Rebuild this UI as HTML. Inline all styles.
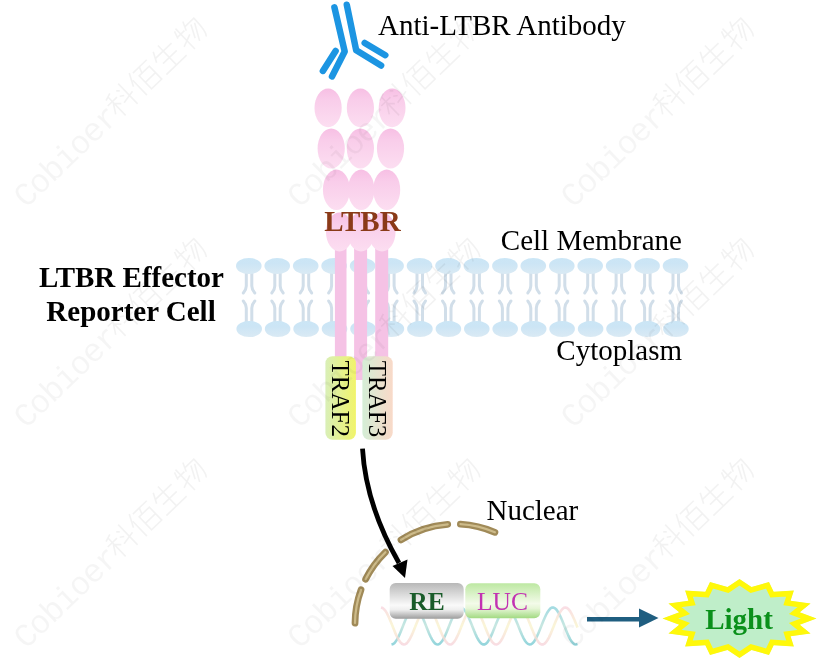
<!DOCTYPE html>
<html><head><meta charset="utf-8"><style>
html,body{margin:0;padding:0;background:#fff;}
svg{display:block;will-change:transform;}
.s{font-family:"Liberation Serif",serif;font-size:29px;fill:#000;}
.sb{font-family:"Liberation Serif",serif;font-size:29px;font-weight:bold;}
.s24{font-family:"Liberation Serif",serif;font-size:24px;}
.s25{font-family:"Liberation Serif",serif;font-size:25.5px;}
.s25t{font-family:"Liberation Serif",serif;font-size:25px;}
.sb24{font-family:"Liberation Serif",serif;font-size:25.5px;font-weight:bold;}
.tail{fill:none;stroke:#D1DEE9;stroke-width:3;stroke-linecap:round;}
.wm{font-family:"Liberation Mono",monospace;font-size:33px;fill:#000;fill-opacity:0.04;}
</style></head><body>
<svg width="819" height="660" viewBox="0 0 819 660">
<defs>
<linearGradient id="pinkE" x1="0" y1="0" x2="0" y2="1"><stop offset="0" stop-color="#F7BFE4"/><stop offset="0.3" stop-color="#F9CDEA"/><stop offset="1" stop-color="#FCDEF1"/></linearGradient>
<linearGradient id="head" x1="0" y1="0" x2="0" y2="1"><stop offset="0" stop-color="#CBE6F6"/><stop offset="0.35" stop-color="#CCE5F5"/><stop offset="1" stop-color="#DAEAF4"/></linearGradient>
<linearGradient id="traf2" x1="0" y1="0" x2="1" y2="0"><stop offset="0" stop-color="#D9EFB8"/><stop offset="1" stop-color="#F1F46A"/></linearGradient>
<linearGradient id="traf3" x1="0" y1="0" x2="1" y2="0"><stop offset="0" stop-color="#D4EED6"/><stop offset="1" stop-color="#F9D9C8"/></linearGradient>
<linearGradient id="re" x1="0" y1="0" x2="0" y2="1"><stop offset="0" stop-color="#B8B8B8"/><stop offset="0.62" stop-color="#FAFAFA"/><stop offset="0.75" stop-color="#EEEEEE"/><stop offset="1" stop-color="#9C9C9C"/></linearGradient>
<linearGradient id="luc" x1="0" y1="0" x2="0" y2="1"><stop offset="0" stop-color="#BDE8A2"/><stop offset="0.58" stop-color="#F3FBE9"/><stop offset="0.72" stop-color="#E6F6D6"/><stop offset="1" stop-color="#A2DA82"/></linearGradient>
<linearGradient id="dnaA" x1="0" y1="606" x2="0" y2="646" gradientUnits="userSpaceOnUse"><stop offset="0" stop-color="#F6C8D6"/><stop offset="0.5" stop-color="#F7F1C0"/><stop offset="1" stop-color="#F4C6D3"/></linearGradient>
<linearGradient id="dnaB" x1="0" y1="606" x2="0" y2="646" gradientUnits="userSpaceOnUse"><stop offset="0" stop-color="#92D5DE"/><stop offset="0.5" stop-color="#BFE3DC"/><stop offset="1" stop-color="#7DCDD6"/></linearGradient>
</defs>
<rect width="819" height="660" fill="#fff"/>
<path d="M246.3,272 V286 Q246.3,289.5 243.3,293 M251.8,272 V286 Q251.8,289.5 254.8,293" class="tail"/><path d="M243.3,301 Q246.3,304.5 246.3,308 V322 M254.8,301 Q251.8,304.5 251.8,308 V322" class="tail"/><ellipse cx="248.8" cy="266" rx="12.8" ry="8" fill="url(#head)"/><ellipse cx="249.2" cy="329" rx="12.8" ry="8.1" fill="url(#head)"/><path d="M274.8,272 V286 Q274.8,289.5 271.8,293 M280.2,272 V286 Q280.2,289.5 283.2,293" class="tail"/><path d="M271.8,301 Q274.8,304.5 274.8,308 V322 M283.2,301 Q280.2,304.5 280.2,308 V322" class="tail"/><ellipse cx="277.2" cy="266" rx="12.8" ry="8" fill="url(#head)"/><ellipse cx="277.6" cy="329" rx="12.8" ry="8.1" fill="url(#head)"/><path d="M303.2,272 V286 Q303.2,289.5 300.2,293 M308.7,272 V286 Q308.7,289.5 311.7,293" class="tail"/><path d="M300.2,301 Q303.2,304.5 303.2,308 V322 M311.7,301 Q308.7,304.5 308.7,308 V322" class="tail"/><ellipse cx="305.7" cy="266" rx="12.8" ry="8" fill="url(#head)"/><ellipse cx="306.1" cy="329" rx="12.8" ry="8.1" fill="url(#head)"/><path d="M331.6,272 V286 Q331.6,289.5 328.6,293 M337.1,272 V286 Q337.1,289.5 340.1,293" class="tail"/><path d="M328.6,301 Q331.6,304.5 331.6,308 V322 M340.1,301 Q337.1,304.5 337.1,308 V322" class="tail"/><ellipse cx="334.1" cy="266" rx="12.8" ry="8" fill="url(#head)"/><ellipse cx="334.5" cy="329" rx="12.8" ry="8.1" fill="url(#head)"/><path d="M360.1,272 V286 Q360.1,289.5 357.1,293 M365.6,272 V286 Q365.6,289.5 368.6,293" class="tail"/><path d="M357.1,301 Q360.1,304.5 360.1,308 V322 M368.6,301 Q365.6,304.5 365.6,308 V322" class="tail"/><ellipse cx="362.6" cy="266" rx="12.8" ry="8" fill="url(#head)"/><ellipse cx="363.0" cy="329" rx="12.8" ry="8.1" fill="url(#head)"/><path d="M388.6,272 V286 Q388.6,289.5 385.6,293 M394.1,272 V286 Q394.1,289.5 397.1,293" class="tail"/><path d="M385.6,301 Q388.6,304.5 388.6,308 V322 M397.1,301 Q394.1,304.5 394.1,308 V322" class="tail"/><ellipse cx="391.1" cy="266" rx="12.8" ry="8" fill="url(#head)"/><ellipse cx="391.4" cy="329" rx="12.8" ry="8.1" fill="url(#head)"/><path d="M417.0,272 V286 Q417.0,289.5 414.0,293 M422.5,272 V286 Q422.5,289.5 425.5,293" class="tail"/><path d="M414.0,301 Q417.0,304.5 417.0,308 V322 M425.5,301 Q422.5,304.5 422.5,308 V322" class="tail"/><ellipse cx="419.5" cy="266" rx="12.8" ry="8" fill="url(#head)"/><ellipse cx="419.9" cy="329" rx="12.8" ry="8.1" fill="url(#head)"/><path d="M445.5,272 V286 Q445.5,289.5 442.5,293 M451.0,272 V286 Q451.0,289.5 454.0,293" class="tail"/><path d="M442.5,301 Q445.5,304.5 445.5,308 V322 M454.0,301 Q451.0,304.5 451.0,308 V322" class="tail"/><ellipse cx="448.0" cy="266" rx="12.8" ry="8" fill="url(#head)"/><ellipse cx="448.4" cy="329" rx="12.8" ry="8.1" fill="url(#head)"/><path d="M473.9,272 V286 Q473.9,289.5 470.9,293 M479.4,272 V286 Q479.4,289.5 482.4,293" class="tail"/><path d="M470.9,301 Q473.9,304.5 473.9,308 V322 M482.4,301 Q479.4,304.5 479.4,308 V322" class="tail"/><ellipse cx="476.4" cy="266" rx="12.8" ry="8" fill="url(#head)"/><ellipse cx="476.8" cy="329" rx="12.8" ry="8.1" fill="url(#head)"/><path d="M502.4,272 V286 Q502.4,289.5 499.4,293 M507.9,272 V286 Q507.9,289.5 510.9,293" class="tail"/><path d="M499.4,301 Q502.4,304.5 502.4,308 V322 M510.9,301 Q507.9,304.5 507.9,308 V322" class="tail"/><ellipse cx="504.9" cy="266" rx="12.8" ry="8" fill="url(#head)"/><ellipse cx="505.2" cy="329" rx="12.8" ry="8.1" fill="url(#head)"/><path d="M530.8,272 V286 Q530.8,289.5 527.8,293 M536.3,272 V286 Q536.3,289.5 539.3,293" class="tail"/><path d="M527.8,301 Q530.8,304.5 530.8,308 V322 M539.3,301 Q536.3,304.5 536.3,308 V322" class="tail"/><ellipse cx="533.3" cy="266" rx="12.8" ry="8" fill="url(#head)"/><ellipse cx="533.7" cy="329" rx="12.8" ry="8.1" fill="url(#head)"/><path d="M559.2,272 V286 Q559.2,289.5 556.2,293 M564.8,272 V286 Q564.8,289.5 567.8,293" class="tail"/><path d="M556.2,301 Q559.2,304.5 559.2,308 V322 M567.8,301 Q564.8,304.5 564.8,308 V322" class="tail"/><ellipse cx="561.8" cy="266" rx="12.8" ry="8" fill="url(#head)"/><ellipse cx="562.1" cy="329" rx="12.8" ry="8.1" fill="url(#head)"/><path d="M587.7,272 V286 Q587.7,289.5 584.7,293 M593.2,272 V286 Q593.2,289.5 596.2,293" class="tail"/><path d="M584.7,301 Q587.7,304.5 587.7,308 V322 M596.2,301 Q593.2,304.5 593.2,308 V322" class="tail"/><ellipse cx="590.2" cy="266" rx="12.8" ry="8" fill="url(#head)"/><ellipse cx="590.6" cy="329" rx="12.8" ry="8.1" fill="url(#head)"/><path d="M616.1,272 V286 Q616.1,289.5 613.1,293 M621.6,272 V286 Q621.6,289.5 624.6,293" class="tail"/><path d="M613.1,301 Q616.1,304.5 616.1,308 V322 M624.6,301 Q621.6,304.5 621.6,308 V322" class="tail"/><ellipse cx="618.6" cy="266" rx="12.8" ry="8" fill="url(#head)"/><ellipse cx="619.0" cy="329" rx="12.8" ry="8.1" fill="url(#head)"/><path d="M644.6,272 V286 Q644.6,289.5 641.6,293 M650.1,272 V286 Q650.1,289.5 653.1,293" class="tail"/><path d="M641.6,301 Q644.6,304.5 644.6,308 V322 M653.1,301 Q650.1,304.5 650.1,308 V322" class="tail"/><ellipse cx="647.1" cy="266" rx="12.8" ry="8" fill="url(#head)"/><ellipse cx="647.5" cy="329" rx="12.8" ry="8.1" fill="url(#head)"/><path d="M673.0,272 V286 Q673.0,289.5 670.0,293 M678.5,272 V286 Q678.5,289.5 681.5,293" class="tail"/><path d="M670.0,301 Q673.0,304.5 673.0,308 V322 M681.5,301 Q678.5,304.5 678.5,308 V322" class="tail"/><ellipse cx="675.5" cy="266" rx="12.8" ry="8" fill="url(#head)"/><ellipse cx="675.9" cy="329" rx="12.8" ry="8.1" fill="url(#head)"/>
<!-- stalks -->
<rect x="334.9" y="240" width="11.6" height="120" fill="#F5C2E5"/>
<rect x="354.1" y="240" width="13" height="140" fill="#F5C2E5"/>
<rect x="375.2" y="240" width="13" height="120" fill="#F5C2E5"/>
<!-- ellipses -->
<g fill="url(#pinkE)">
<ellipse cx="339.5" cy="232" rx="13.5" ry="19.5"/><ellipse cx="361" cy="232" rx="13.5" ry="19.5"/><ellipse cx="382" cy="232" rx="13.5" ry="19.5"/>
<ellipse cx="336.4" cy="189.8" rx="13.5" ry="20.2"/><ellipse cx="361.2" cy="189.8" rx="13.2" ry="20.2"/><ellipse cx="386.7" cy="189.8" rx="13.5" ry="20.2"/>
<ellipse cx="331.2" cy="148.5" rx="13.6" ry="20"/><ellipse cx="360.4" cy="148.5" rx="13.6" ry="20"/><ellipse cx="390.5" cy="148.5" rx="13.6" ry="20"/>
<ellipse cx="328.1" cy="107.9" rx="13.6" ry="19.4"/><ellipse cx="360.4" cy="107.9" rx="13.6" ry="19.4"/><ellipse cx="392.1" cy="107.9" rx="13.4" ry="19.4"/>
</g>
<text x="362.5" y="231.4" class="sb" fill="#8A3A18" text-anchor="middle">LTBR</text>
<!-- antibody -->
<g stroke="#1C95E2" stroke-width="6.5" stroke-linecap="round" fill="none" stroke-linejoin="round">
<path d="M334.4,7.3 L344.7,51.5 L332,76.4"/>
<path d="M346.8,4.8 L356.2,50.3 L381.1,65.5"/>
<path d="M335.6,50.9 L322.9,70.9"/>
<path d="M364.7,43 L385.3,55.2"/>
</g>
<text x="378" y="35.2" class="s">Anti-LTBR Antibody</text>
<text x="682" y="250" class="s" text-anchor="end">Cell Membrane</text>
<text x="682" y="360.3" class="s" text-anchor="end">Cytoplasm</text>
<text x="131.5" y="286.8" class="sb" text-anchor="middle">LTBR Effector</text>
<text x="131" y="321.4" class="sb" text-anchor="middle">Reporter Cell</text>
<!-- TRAF -->
<rect x="325.4" y="356.3" width="30.5" height="83.5" rx="7" fill="url(#traf2)"/>
<rect x="362.4" y="356.3" width="30.3" height="83.5" rx="7" fill="url(#traf3)"/>
<text transform="translate(332.3,360.5) rotate(90)" class="s25t">TRAF2</text>
<text transform="translate(369.2,360.8) rotate(90)" class="s25t">TRAF3</text>
<!-- arrow -->
<path d="M362.5,448.6 Q365.75,504.7 399,563" stroke="#000" stroke-width="4.8" fill="none"/>
<path d="M392.5,566 L405,578 L407.5,559.5 Z" fill="#000"/>
<!-- nucleus -->
<g fill="none" stroke-linecap="round"><g stroke="#A08A58" stroke-width="6.8"><path d="M355.0,623.1 A100,100 0 0 1 361.0,589.8"/><path d="M365.6,579.2 A100,100 0 0 1 385.4,552.2"/><path d="M401.0,539.8 A100,100 0 0 1 447.7,524.3"/><path d="M460.4,524.1 A100,100 0 0 1 494.9,532.3"/></g><g stroke="#CDBB8A" stroke-width="2.2"><path d="M355.0,623.1 A100,100 0 0 1 361.0,589.8"/><path d="M365.6,579.2 A100,100 0 0 1 385.4,552.2"/><path d="M401.0,539.8 A100,100 0 0 1 447.7,524.3"/><path d="M460.4,524.1 A100,100 0 0 1 494.9,532.3"/></g></g>
<text x="486.5" y="519.7" class="s">Nuclear</text>
<!-- DNA -->
<g fill="none" stroke-width="2.6" opacity="0.85">
<path d="M391.5,644.5 L393.0,644.1 L394.5,643.0 L396.0,641.1 L397.5,638.7 L399.0,635.6 L400.5,632.2 L402.0,628.6 L403.5,624.8 L405.0,621.1 L406.5,617.6 L408.0,614.4 L409.5,611.7 L411.0,609.6 L412.5,608.2 L414.0,607.6 L415.5,607.7 L417.0,608.5 L418.5,610.1 L420.0,612.4 L421.5,615.2 L423.0,618.5 L424.5,622.1 L426.0,625.8 L427.5,629.6 L429.0,633.2 L430.5,636.5 L432.0,639.4 L433.5,641.7 L435.0,643.4 L436.5,644.3 L438.0,644.5 L439.5,643.9 L441.0,642.5 L442.5,640.5 L444.0,637.9 L445.5,634.8 L447.0,631.3 L448.5,627.6 L450.0,623.8 L451.5,620.1 L453.0,616.7 L454.5,613.6 L456.0,611.1 L457.5,609.2 L459.0,608.0 L460.5,607.5 L462.0,607.8 L463.5,608.9 L465.0,610.7 L466.5,613.1 L468.0,616.0 L469.5,619.4 L471.0,623.0 L472.5,626.8 L474.0,630.6 L475.5,634.1 L477.0,637.3 L478.5,640.0 L480.0,642.2 L481.5,643.7 L483.0,644.4 L484.5,644.4 L486.0,643.6 L487.5,642.1 L489.0,639.9 L490.5,637.1 L492.0,633.9 L493.5,630.3 L495.0,626.6 L496.5,622.8 L498.0,619.2 L499.5,615.8 L501.0,612.9 L502.5,610.5 L504.0,608.8 L505.5,607.8 L507.0,607.5 L508.5,608.0 L510.0,609.3 L511.5,611.2 L513.0,613.8 L514.5,616.9 L516.0,620.4 L517.5,624.0 L519.0,627.8 L520.5,631.5 L522.0,635.0 L523.5,638.1 L525.0,640.7 L526.5,642.7 L528.0,643.9 L529.5,644.5 L531.0,644.3 L532.5,643.3 L534.0,641.6 L535.5,639.2 L537.0,636.3 L538.5,632.9 L540.0,629.3 L541.5,625.6 L543.0,621.8 L544.5,618.2 L546.0,615.0 L547.5,612.2 L549.0,610.0 L550.5,608.4 L552.0,607.6 L553.5,607.6 L555.0,608.3 L556.5,609.7 L558.0,611.9 L559.5,614.6 L561.0,617.8 L562.5,621.3 L564.0,625.1 L565.5,628.8 L567.0,632.5 L568.5,635.9 L570.0,638.8 L571.5,641.3 L573.0,643.1 L574.5,644.2 L576.0,644.5 L577.5,644.1" stroke="url(#dnaB)"/><path d="M381.0,607.5 L382.5,607.9 L384.0,609.1 L385.5,610.9 L387.0,613.4 L388.5,616.5 L390.0,619.9 L391.5,623.5 L393.0,627.3 L394.5,631.0 L396.0,634.6 L397.5,637.7 L399.0,640.4 L400.5,642.4 L402.0,643.8 L403.5,644.5 L405.0,644.3 L406.5,643.4 L408.0,641.8 L409.5,639.5 L411.0,636.7 L412.5,633.4 L414.0,629.8 L415.5,626.1 L417.0,622.3 L418.5,618.7 L420.0,615.4 L421.5,612.5 L423.0,610.2 L424.5,608.6 L426.0,607.7 L427.5,607.5 L429.0,608.1 L430.5,609.5 L432.0,611.6 L433.5,614.2 L435.0,617.3 L436.5,620.8 L438.0,624.6 L439.5,628.3 L441.0,632.0 L442.5,635.4 L444.0,638.5 L445.5,641.0 L447.0,642.9 L448.5,644.1 L450.0,644.5 L451.5,644.2 L453.0,643.1 L454.5,641.3 L456.0,638.8 L457.5,635.9 L459.0,632.5 L460.5,628.8 L462.0,625.1 L463.5,621.3 L465.0,617.8 L466.5,614.6 L468.0,611.9 L469.5,609.7 L471.0,608.3 L472.5,607.6 L474.0,607.6 L475.5,608.4 L477.0,610.0 L478.5,612.2 L480.0,615.0 L481.5,618.2 L483.0,621.8 L484.5,625.6 L486.0,629.3 L487.5,632.9 L489.0,636.3 L490.5,639.2 L492.0,641.6 L493.5,643.3 L495.0,644.3 L496.5,644.5 L498.0,643.9 L499.5,642.7 L501.0,640.7 L502.5,638.1 L504.0,635.0 L505.5,631.5 L507.0,627.8 L508.5,624.0 L510.0,620.4 L511.5,616.9 L513.0,613.8 L514.5,611.2 L516.0,609.3 L517.5,608.0 L519.0,607.5 L520.5,607.8 L522.0,608.8 L523.5,610.5 L525.0,612.9 L526.5,615.8 L528.0,619.2 L529.5,622.8 L531.0,626.6 L532.5,630.3 L534.0,633.9 L535.5,637.1 L537.0,639.9 L538.5,642.1 L540.0,643.6 L541.5,644.4 L543.0,644.4 L544.5,643.7 L546.0,642.2 L547.5,640.0 L549.0,637.3 L550.5,634.1 L552.0,630.6 L553.5,626.8 L555.0,623.0 L556.5,619.4 L558.0,616.0 L559.5,613.1 L561.0,610.7 L562.5,608.9 L564.0,607.8 L565.5,607.5 L567.0,608.0 L568.5,609.2 L570.0,611.1 L571.5,613.6 L573.0,616.7 L574.5,620.1 L576.0,623.8 L577.5,627.6" stroke="url(#dnaA)" opacity="0.75"/>
</g>
<rect x="389.7" y="583" width="74" height="35.8" rx="6" fill="url(#re)"/>
<rect x="465.3" y="583.2" width="75" height="35" rx="6" fill="url(#luc)"/>
<text x="427" y="609.7" class="sb24" fill="#1A5C2A" text-anchor="middle">RE</text>
<text x="502.5" y="609.6" class="s25" fill="#C232B2" text-anchor="middle">LUC</text>
<!-- right arrow -->
<path d="M587,619.3 H642" stroke="#1F5E80" stroke-width="4.5"/>
<path d="M639,608.5 L658.5,618 L639,627.5 Z" fill="#1F5E80"/>
<clipPath id="sc"><polygon points="739.5,579.0 751.5,587.0 769.0,582.0 773.7,591.8 793.9,590.6 790.6,600.7 810.6,603.4 799.8,612.2 816.5,618.5 799.8,624.8 810.6,633.6 790.6,636.3 793.9,646.4 773.7,645.2 769.0,655.0 751.5,650.0 739.5,658.0 727.5,650.0 710.0,655.0 705.3,645.2 685.1,646.4 688.4,636.3 668.4,633.6 679.2,624.8 662.5,618.5 679.2,612.2 668.4,603.4 688.4,600.7 685.1,590.6 705.3,591.8 710.0,582.0 727.5,587.0"/></clipPath><polygon points="739.5,579.0 751.5,587.0 769.0,582.0 773.7,591.8 793.9,590.6 790.6,600.7 810.6,603.4 799.8,612.2 816.5,618.5 799.8,624.8 810.6,633.6 790.6,636.3 793.9,646.4 773.7,645.2 769.0,655.0 751.5,650.0 739.5,658.0 727.5,650.0 710.0,655.0 705.3,645.2 685.1,646.4 688.4,636.3 668.4,633.6 679.2,624.8 662.5,618.5 679.2,612.2 668.4,603.4 688.4,600.7 685.1,590.6 705.3,591.8 710.0,582.0 727.5,587.0" fill="#BFEEC9" stroke="#FFF80A" stroke-width="11" stroke-linejoin="miter" stroke-miterlimit="20" clip-path="url(#sc)"/>
<text x="739" y="628.5" class="sb" fill="#0A901A" text-anchor="middle">Light</text>
<g transform="translate(26,209) rotate(-43.8)"><text x="0" y="0" class="wm" letter-spacing="-1.3">Cobioer</text><g transform="translate(129,-28) scale(1.28)" fill="none" stroke="#000" stroke-opacity="0.05" stroke-width="1.3"><path d="M9,2 L3,4 M1,8 L11,8 M6,3 V23 M6,9 L1,17 M6,10 L10,14 M14,4 L16,6 M13,9 L16,11 M12,15 L23,13 M19,1 V23"/><path transform="translate(25,0)" d="M6,1 L1,11 M4,7 V23 M8,3 H23 M15,3 L13,8 M10,8 H21 V22 H10 Z M10,15 H21"/><path transform="translate(50,0)" d="M6,2 L2,10 M4,7 H21 M5,14 H20 M1,22 H23 M12,1 V22"/><path transform="translate(75,0)" d="M4,2 L2,8 M2,7 H10 M6,1 V23 M1,16 L11,12 M14,1 L11,8 M12,5 H22 Q22,20 19,22 M17,7 L12,17 M20,8 L13,21"/></g></g><g transform="translate(26,429.5) rotate(-43.8)"><text x="0" y="0" class="wm" letter-spacing="-1.3">Cobioer</text><g transform="translate(129,-28) scale(1.28)" fill="none" stroke="#000" stroke-opacity="0.05" stroke-width="1.3"><path d="M9,2 L3,4 M1,8 L11,8 M6,3 V23 M6,9 L1,17 M6,10 L10,14 M14,4 L16,6 M13,9 L16,11 M12,15 L23,13 M19,1 V23"/><path transform="translate(25,0)" d="M6,1 L1,11 M4,7 V23 M8,3 H23 M15,3 L13,8 M10,8 H21 V22 H10 Z M10,15 H21"/><path transform="translate(50,0)" d="M6,2 L2,10 M4,7 H21 M5,14 H20 M1,22 H23 M12,1 V22"/><path transform="translate(75,0)" d="M4,2 L2,8 M2,7 H10 M6,1 V23 M1,16 L11,12 M14,1 L11,8 M12,5 H22 Q22,20 19,22 M17,7 L12,17 M20,8 L13,21"/></g></g><g transform="translate(26,650) rotate(-43.8)"><text x="0" y="0" class="wm" letter-spacing="-1.3">Cobioer</text><g transform="translate(129,-28) scale(1.28)" fill="none" stroke="#000" stroke-opacity="0.05" stroke-width="1.3"><path d="M9,2 L3,4 M1,8 L11,8 M6,3 V23 M6,9 L1,17 M6,10 L10,14 M14,4 L16,6 M13,9 L16,11 M12,15 L23,13 M19,1 V23"/><path transform="translate(25,0)" d="M6,1 L1,11 M4,7 V23 M8,3 H23 M15,3 L13,8 M10,8 H21 V22 H10 Z M10,15 H21"/><path transform="translate(50,0)" d="M6,2 L2,10 M4,7 H21 M5,14 H20 M1,22 H23 M12,1 V22"/><path transform="translate(75,0)" d="M4,2 L2,8 M2,7 H10 M6,1 V23 M1,16 L11,12 M14,1 L11,8 M12,5 H22 Q22,20 19,22 M17,7 L12,17 M20,8 L13,21"/></g></g><g transform="translate(299.5,209) rotate(-43.8)"><text x="0" y="0" class="wm" letter-spacing="-1.3">Cobioer</text><g transform="translate(129,-28) scale(1.28)" fill="none" stroke="#000" stroke-opacity="0.05" stroke-width="1.3"><path d="M9,2 L3,4 M1,8 L11,8 M6,3 V23 M6,9 L1,17 M6,10 L10,14 M14,4 L16,6 M13,9 L16,11 M12,15 L23,13 M19,1 V23"/><path transform="translate(25,0)" d="M6,1 L1,11 M4,7 V23 M8,3 H23 M15,3 L13,8 M10,8 H21 V22 H10 Z M10,15 H21"/><path transform="translate(50,0)" d="M6,2 L2,10 M4,7 H21 M5,14 H20 M1,22 H23 M12,1 V22"/><path transform="translate(75,0)" d="M4,2 L2,8 M2,7 H10 M6,1 V23 M1,16 L11,12 M14,1 L11,8 M12,5 H22 Q22,20 19,22 M17,7 L12,17 M20,8 L13,21"/></g></g><g transform="translate(299.5,429.5) rotate(-43.8)"><text x="0" y="0" class="wm" letter-spacing="-1.3">Cobioer</text><g transform="translate(129,-28) scale(1.28)" fill="none" stroke="#000" stroke-opacity="0.05" stroke-width="1.3"><path d="M9,2 L3,4 M1,8 L11,8 M6,3 V23 M6,9 L1,17 M6,10 L10,14 M14,4 L16,6 M13,9 L16,11 M12,15 L23,13 M19,1 V23"/><path transform="translate(25,0)" d="M6,1 L1,11 M4,7 V23 M8,3 H23 M15,3 L13,8 M10,8 H21 V22 H10 Z M10,15 H21"/><path transform="translate(50,0)" d="M6,2 L2,10 M4,7 H21 M5,14 H20 M1,22 H23 M12,1 V22"/><path transform="translate(75,0)" d="M4,2 L2,8 M2,7 H10 M6,1 V23 M1,16 L11,12 M14,1 L11,8 M12,5 H22 Q22,20 19,22 M17,7 L12,17 M20,8 L13,21"/></g></g><g transform="translate(299.5,650) rotate(-43.8)"><text x="0" y="0" class="wm" letter-spacing="-1.3">Cobioer</text><g transform="translate(129,-28) scale(1.28)" fill="none" stroke="#000" stroke-opacity="0.05" stroke-width="1.3"><path d="M9,2 L3,4 M1,8 L11,8 M6,3 V23 M6,9 L1,17 M6,10 L10,14 M14,4 L16,6 M13,9 L16,11 M12,15 L23,13 M19,1 V23"/><path transform="translate(25,0)" d="M6,1 L1,11 M4,7 V23 M8,3 H23 M15,3 L13,8 M10,8 H21 V22 H10 Z M10,15 H21"/><path transform="translate(50,0)" d="M6,2 L2,10 M4,7 H21 M5,14 H20 M1,22 H23 M12,1 V22"/><path transform="translate(75,0)" d="M4,2 L2,8 M2,7 H10 M6,1 V23 M1,16 L11,12 M14,1 L11,8 M12,5 H22 Q22,20 19,22 M17,7 L12,17 M20,8 L13,21"/></g></g><g transform="translate(573,209) rotate(-43.8)"><text x="0" y="0" class="wm" letter-spacing="-1.3">Cobioer</text><g transform="translate(129,-28) scale(1.28)" fill="none" stroke="#000" stroke-opacity="0.05" stroke-width="1.3"><path d="M9,2 L3,4 M1,8 L11,8 M6,3 V23 M6,9 L1,17 M6,10 L10,14 M14,4 L16,6 M13,9 L16,11 M12,15 L23,13 M19,1 V23"/><path transform="translate(25,0)" d="M6,1 L1,11 M4,7 V23 M8,3 H23 M15,3 L13,8 M10,8 H21 V22 H10 Z M10,15 H21"/><path transform="translate(50,0)" d="M6,2 L2,10 M4,7 H21 M5,14 H20 M1,22 H23 M12,1 V22"/><path transform="translate(75,0)" d="M4,2 L2,8 M2,7 H10 M6,1 V23 M1,16 L11,12 M14,1 L11,8 M12,5 H22 Q22,20 19,22 M17,7 L12,17 M20,8 L13,21"/></g></g><g transform="translate(573,429.5) rotate(-43.8)"><text x="0" y="0" class="wm" letter-spacing="-1.3">Cobioer</text><g transform="translate(129,-28) scale(1.28)" fill="none" stroke="#000" stroke-opacity="0.05" stroke-width="1.3"><path d="M9,2 L3,4 M1,8 L11,8 M6,3 V23 M6,9 L1,17 M6,10 L10,14 M14,4 L16,6 M13,9 L16,11 M12,15 L23,13 M19,1 V23"/><path transform="translate(25,0)" d="M6,1 L1,11 M4,7 V23 M8,3 H23 M15,3 L13,8 M10,8 H21 V22 H10 Z M10,15 H21"/><path transform="translate(50,0)" d="M6,2 L2,10 M4,7 H21 M5,14 H20 M1,22 H23 M12,1 V22"/><path transform="translate(75,0)" d="M4,2 L2,8 M2,7 H10 M6,1 V23 M1,16 L11,12 M14,1 L11,8 M12,5 H22 Q22,20 19,22 M17,7 L12,17 M20,8 L13,21"/></g></g><g transform="translate(573,650) rotate(-43.8)"><text x="0" y="0" class="wm" letter-spacing="-1.3">Cobioer</text><g transform="translate(129,-28) scale(1.28)" fill="none" stroke="#000" stroke-opacity="0.05" stroke-width="1.3"><path d="M9,2 L3,4 M1,8 L11,8 M6,3 V23 M6,9 L1,17 M6,10 L10,14 M14,4 L16,6 M13,9 L16,11 M12,15 L23,13 M19,1 V23"/><path transform="translate(25,0)" d="M6,1 L1,11 M4,7 V23 M8,3 H23 M15,3 L13,8 M10,8 H21 V22 H10 Z M10,15 H21"/><path transform="translate(50,0)" d="M6,2 L2,10 M4,7 H21 M5,14 H20 M1,22 H23 M12,1 V22"/><path transform="translate(75,0)" d="M4,2 L2,8 M2,7 H10 M6,1 V23 M1,16 L11,12 M14,1 L11,8 M12,5 H22 Q22,20 19,22 M17,7 L12,17 M20,8 L13,21"/></g></g>
</svg>
</body></html>
